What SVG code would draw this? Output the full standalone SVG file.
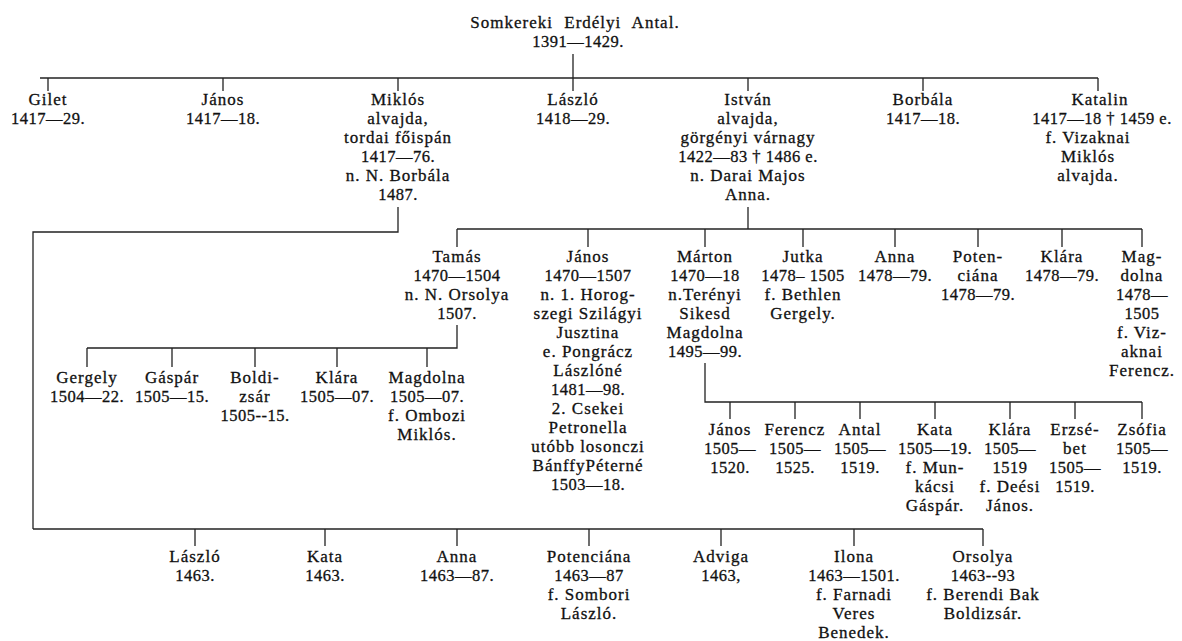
<svg xmlns="http://www.w3.org/2000/svg" width="1182" height="641" viewBox="0 0 1182 641">
  <style>
    text { font-family: "Liberation Serif", "Times New Roman", serif; font-size: 17px; fill: #111111; stroke: #111111; stroke-width: 0.3px; text-anchor: middle; letter-spacing: 1px; }
    .d { font-size: 16.5px; letter-spacing: 0.5px; }
    .ln { stroke: #222222; stroke-width: 1.3; fill: none; }
  </style>
  <rect width="1182" height="641" fill="#ffffff"/>

  <!-- connectors -->
  <g id="connectors" class="ln">
    <path d="M573 54 V78"/>
    <path d="M40 78 H1098"/>
    <path d="M48 78 V91 M223 78 V91 M398 78 V91 M573 78 V91 M748 78 V91 M923 78 V91 M1098 78 V91"/>
    <!-- Miklós line of descent -->
    <path d="M398 207 V232 H33 V529"/>
    <path d="M33 529 H983"/>
    <path d="M195 529 V546 M325 529 V546 M457 529 V546 M589 529 V546 M721 529 V546 M854 529 V546 M983 529 V546"/>
    <!-- István line of descent -->
    <path d="M748 207 V229"/>
    <path d="M457 229 H1142"/>
    <path d="M457 229 V247 M588 229 V247 M705 229 V247 M803 229 V247 M895 229 V247 M978 229 V247 M1062 229 V247 M1142 229 V247"/>
    <!-- Tamás -->
    <path d="M457 325 V348 H87"/>
    <path d="M87 348 V367 M172 348 V367 M255 348 V367 M337 348 V367 M427 348 V367"/>
    <!-- Márton -->
    <path d="M705 363 V402 H1142"/>
    <path d="M730 402 V419 M795 402 V419 M860 402 V419 M935 402 V419 M1010 402 V419 M1075 402 V419 M1142 402 V419"/>
  </g>

  <!-- root -->
  <g id="antal">
    <text word-spacing="6"><tspan x="575" y="28">Somkereki Erdélyi Antal.</tspan><tspan class="d" x="578" y="47">1391—1429.</tspan></text>
  </g>

  <!-- first generation -->
  <g id="gilet">
    <text><tspan x="48" y="105">Gilet</tspan><tspan class="d" x="48" y="124">1417—29.</tspan></text>
  </g>
  <g id="janos1">
    <text><tspan x="223" y="105">János</tspan><tspan class="d" x="223" y="124">1417—18.</tspan></text>
  </g>
  <g id="miklos1">
    <text><tspan x="398" y="105">Miklós</tspan><tspan x="398" y="124">alvajda,</tspan><tspan x="398" y="143">tordai főispán</tspan><tspan class="d" x="398" y="162">1417—76.</tspan><tspan x="398" y="181">n. N. Borbála</tspan><tspan class="d" x="398" y="200">1487.</tspan></text>
  </g>
  <g id="laszlo1">
    <text><tspan x="573" y="105">László</tspan><tspan class="d" x="573" y="124">1418—29.</tspan></text>
  </g>
  <g id="istvan">
    <text><tspan x="748" y="105">István</tspan><tspan x="748" y="124">alvajda,</tspan><tspan x="748" y="143">görgényi várnagy</tspan><tspan class="d" x="748" y="162">1422—83 † 1486 e.</tspan><tspan x="748" y="181">n. Darai Majos</tspan><tspan x="748" y="200">Anna.</tspan></text>
  </g>
  <g id="borbala">
    <text><tspan x="923" y="105">Borbála</tspan><tspan class="d" x="923" y="124">1417—18.</tspan></text>
  </g>
  <g id="katalin">
    <text><tspan x="1100" y="105">Katalin</tspan><tspan class="d" x="1102" y="124">1417—18 † 1459 e.</tspan><tspan x="1088" y="143">f. Vizaknai</tspan><tspan x="1088" y="162">Miklós</tspan><tspan x="1088" y="181">alvajda.</tspan></text>
  </g>

  <!-- children of István -->
  <g id="tamas">
    <text><tspan x="457" y="262">Tamás</tspan><tspan class="d" x="457" y="281">1470—1504</tspan><tspan x="457" y="300">n. N. Orsolya</tspan><tspan class="d" x="457" y="319">1507.</tspan></text>
  </g>
  <g id="janos2">
    <text><tspan x="588" y="262">János</tspan><tspan class="d" x="588" y="281">1470—1507</tspan><tspan x="588" y="300">n. 1. Horog-</tspan><tspan x="588" y="319">szegi Szilágyi</tspan><tspan x="588" y="338">Jusztina</tspan><tspan x="588" y="357">e. Pongrácz</tspan><tspan x="588" y="376">Lászlóné</tspan><tspan class="d" x="588" y="395">1481—98.</tspan><tspan x="588" y="414">2. Csekei</tspan><tspan x="588" y="433">Petronella</tspan><tspan x="588" y="452">utóbb losonczi</tspan><tspan x="588" y="471">BánffyPéterné</tspan><tspan class="d" x="588" y="490">1503—18.</tspan></text>
  </g>
  <g id="marton">
    <text><tspan x="705" y="262">Márton</tspan><tspan class="d" x="705" y="281">1470—18</tspan><tspan x="705" y="300">n.Terényi</tspan><tspan x="705" y="319">Sikesd</tspan><tspan x="705" y="338">Magdolna</tspan><tspan class="d" x="705" y="357">1495—99.</tspan></text>
  </g>
  <g id="jutka">
    <text><tspan x="803" y="262">Jutka</tspan><tspan class="d" x="803" y="281">1478– 1505</tspan><tspan x="803" y="300">f. Bethlen</tspan><tspan x="803" y="319">Gergely.</tspan></text>
  </g>
  <g id="anna2">
    <text><tspan x="895" y="262">Anna</tspan><tspan class="d" x="895" y="281">1478—79.</tspan></text>
  </g>
  <g id="potenciana2">
    <text><tspan x="978" y="262">Poten-</tspan><tspan x="978" y="281">ciána</tspan><tspan class="d" x="978" y="300">1478—79.</tspan></text>
  </g>
  <g id="klara2">
    <text><tspan x="1062" y="262">Klára</tspan><tspan class="d" x="1062" y="281">1478—79.</tspan></text>
  </g>
  <g id="magdolna2">
    <text><tspan x="1142" y="262">Mag-</tspan><tspan x="1142" y="281">dolna</tspan><tspan class="d" x="1142" y="300">1478—</tspan><tspan class="d" x="1142" y="319">1505</tspan><tspan x="1142" y="338">f. Viz-</tspan><tspan x="1142" y="357">aknai</tspan><tspan x="1142" y="376">Ferencz.</tspan></text>
  </g>

  <!-- children of Tamás -->
  <g id="gergely">
    <text><tspan x="87" y="383">Gergely</tspan><tspan class="d" x="87" y="402">1504—22.</tspan></text>
  </g>
  <g id="gaspar">
    <text><tspan x="172" y="383">Gáspár</tspan><tspan class="d" x="172" y="402">1505—15.</tspan></text>
  </g>
  <g id="boldizsar">
    <text><tspan x="255" y="383">Boldi-</tspan><tspan x="255" y="402">zsár</tspan><tspan class="d" x="255" y="421">1505--15.</tspan></text>
  </g>
  <g id="klara3">
    <text><tspan x="337" y="383">Klára</tspan><tspan class="d" x="337" y="402">1505—07.</tspan></text>
  </g>
  <g id="magdolna3">
    <text><tspan x="427" y="383">Magdolna</tspan><tspan class="d" x="427" y="402">1505—07.</tspan><tspan x="427" y="421">f. Ombozi</tspan><tspan x="427" y="440">Miklós.</tspan></text>
  </g>

  <!-- children of Márton -->
  <g id="janos4">
    <text><tspan x="730" y="435">János</tspan><tspan class="d" x="730" y="454">1505—</tspan><tspan class="d" x="730" y="473">1520.</tspan></text>
  </g>
  <g id="ferencz4">
    <text><tspan x="795" y="435">Ferencz</tspan><tspan class="d" x="795" y="454">1505—</tspan><tspan class="d" x="795" y="473">1525.</tspan></text>
  </g>
  <g id="antal4">
    <text><tspan x="860" y="435">Antal</tspan><tspan class="d" x="860" y="454">1505—</tspan><tspan class="d" x="860" y="473">1519.</tspan></text>
  </g>
  <g id="kata4">
    <text><tspan x="935" y="435">Kata</tspan><tspan class="d" x="935" y="454">1505—19.</tspan><tspan x="935" y="473">f. Mun-</tspan><tspan x="935" y="492">kácsi</tspan><tspan x="935" y="511">Gáspár.</tspan></text>
  </g>
  <g id="klara4">
    <text><tspan x="1010" y="435">Klára</tspan><tspan class="d" x="1010" y="454">1505—</tspan><tspan class="d" x="1010" y="473">1519</tspan><tspan x="1010" y="492">f. Deési</tspan><tspan x="1010" y="511">János.</tspan></text>
  </g>
  <g id="erzsebet4">
    <text><tspan x="1075" y="435">Erzsé-</tspan><tspan x="1075" y="454">bet</tspan><tspan class="d" x="1075" y="473">1505—</tspan><tspan class="d" x="1075" y="492">1519.</tspan></text>
  </g>
  <g id="zsofia4">
    <text><tspan x="1142" y="435">Zsófia</tspan><tspan class="d" x="1142" y="454">1505—</tspan><tspan class="d" x="1142" y="473">1519.</tspan></text>
  </g>

  <!-- children of Miklós -->
  <g id="laszlo5">
    <text><tspan x="195" y="562">László</tspan><tspan class="d" x="195" y="581">1463.</tspan></text>
  </g>
  <g id="kata5">
    <text><tspan x="325" y="562">Kata</tspan><tspan class="d" x="325" y="581">1463.</tspan></text>
  </g>
  <g id="anna5">
    <text><tspan x="457" y="562">Anna</tspan><tspan class="d" x="457" y="581">1463—87.</tspan></text>
  </g>
  <g id="potenciana5">
    <text><tspan x="589" y="562">Potenciána</tspan><tspan class="d" x="589" y="581">1463—87</tspan><tspan x="589" y="600">f. Sombori</tspan><tspan x="589" y="619">László.</tspan></text>
  </g>
  <g id="adviga5">
    <text><tspan x="721" y="562">Adviga</tspan><tspan class="d" x="721" y="581">1463,</tspan></text>
  </g>
  <g id="ilona5">
    <text><tspan x="854" y="562">Ilona</tspan><tspan class="d" x="854" y="581">1463—1501.</tspan><tspan x="854" y="600">f. Farnadi</tspan><tspan x="854" y="619">Veres</tspan><tspan x="854" y="638">Benedek.</tspan></text>
  </g>
  <g id="orsolya5">
    <text><tspan x="983" y="562">Orsolya</tspan><tspan class="d" x="983" y="581">1463--93</tspan><tspan x="983" y="600">f. Berendi Bak</tspan><tspan x="983" y="619">Boldizsár.</tspan></text>
  </g>
</svg>
